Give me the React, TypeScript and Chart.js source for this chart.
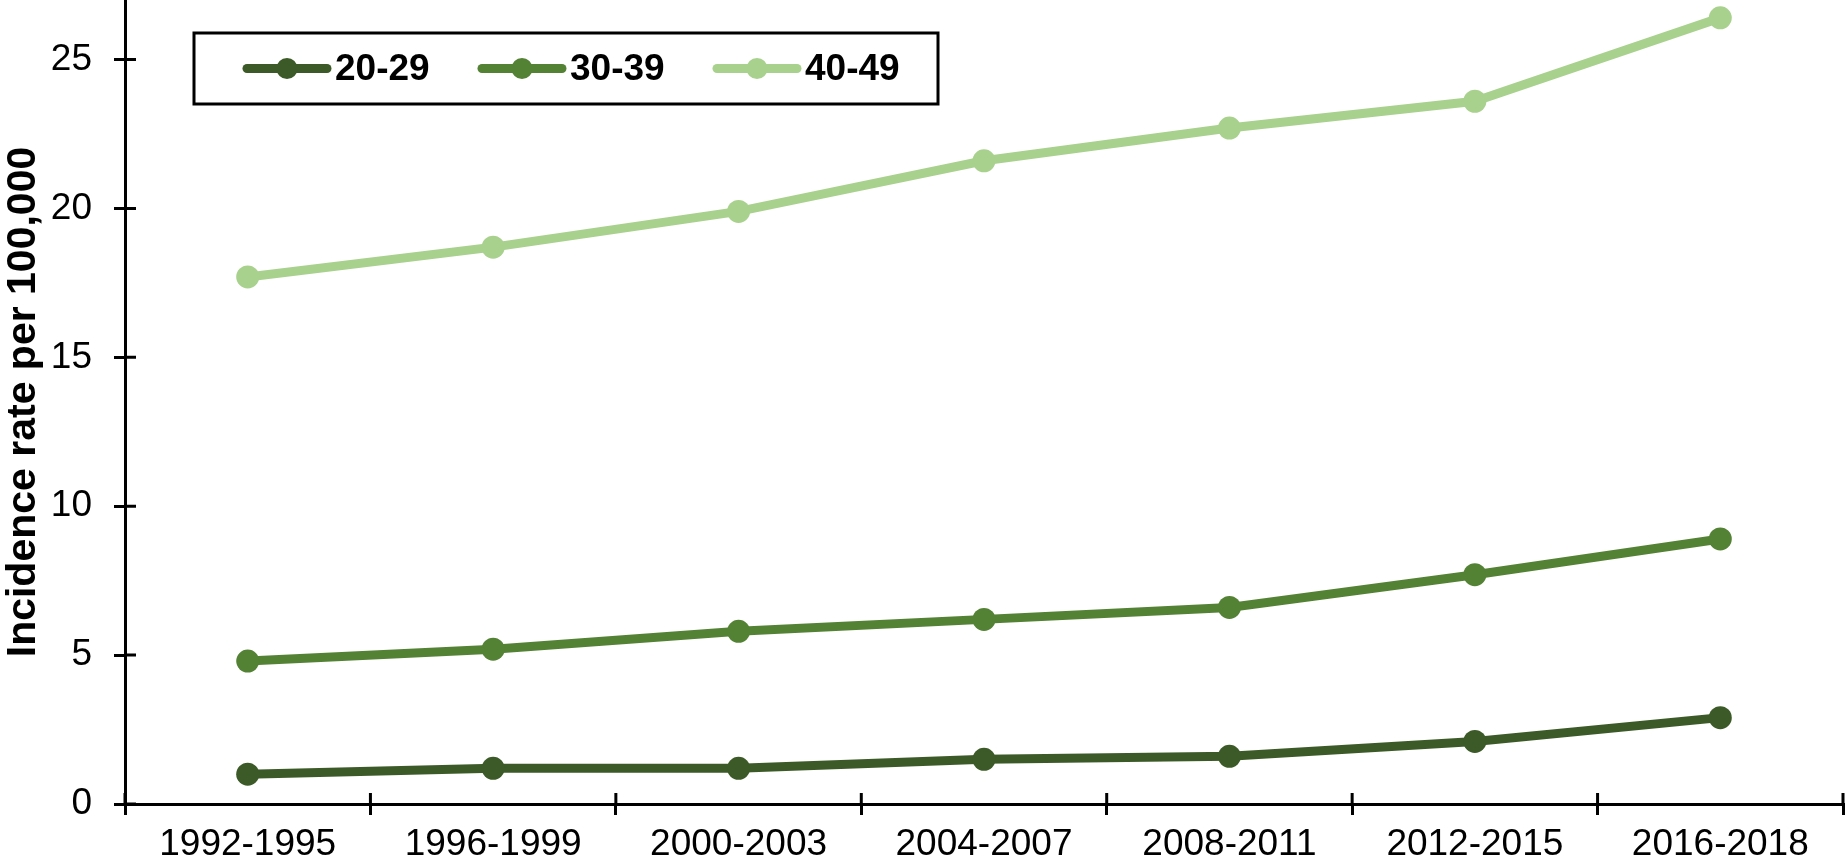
import React, { useEffect, useRef } from "react";
import { Chart, registerables } from "chart.js";

Chart.register(...registerables);

const categories = ["1992-1995", "1996-1999", "2000-2003", "2004-2007", "2008-2011", "2012-2015", "2016-2018"];
const seriesNames = ["20-29", "30-39", "40-49"];
const values2029 = [1.0, 1.2, 1.2, 1.5, 1.6, 2.1, 2.9];
const values3039 = [4.8, 5.2, 5.8, 6.2, 6.6, 7.7, 8.9];
const values4049 = [17.7, 18.7, 19.9, 21.6, 22.7, 23.6, 26.4];
const yTickValues = [0, 5, 10, 15, 20, 25];
const yTitle = "Incidence rate per 100,000";

const colors = ["#3C5A27", "#548235", "#A9D18E"];
const FONT = "'Liberation Sans', Arial, sans-serif";

const crossTicks = {
  id: "crossTicks",
  afterDraw(chart: any) {
    const ctx = chart.ctx;
    const x = chart.scales.x;
    const y = chart.scales.y;
    const len = 11;
    ctx.save();
    ctx.strokeStyle = "#000";
    ctx.lineWidth = 3;
    ctx.beginPath();
    y.ticks.forEach((_t: any, i: number) => {
      const py = y.getPixelForTick(i);
      ctx.moveTo(y.right, py);
      ctx.lineTo(y.right + len, py);
    });
    for (let i = 0; i <= categories.length; i++) {
      const px = x.getPixelForValue(i - 0.5);
      ctx.moveTo(px, x.top);
      ctx.lineTo(px, x.top - len);
    }
    ctx.stroke();
    ctx.restore();
  },
};

const customLegend = {
  id: "customLegend",
  afterDraw(chart: any) {
    const ctx = chart.ctx;
    const left = 194, top = 33, right = 938, bottom = 104;
    ctx.save();
    ctx.fillStyle = "#fff";
    ctx.fillRect(left, top, right - left, bottom - top);
    ctx.strokeStyle = "#000";
    ctx.lineWidth = 3;
    ctx.strokeRect(left, top, right - left, bottom - top);
    const cy = (top + bottom) / 2;
    const starts = [243, 478, 713];
    const lineLen = 88;
    chart.data.datasets.forEach((ds: any, i: number) => {
      const sx = starts[i];
      ctx.strokeStyle = ds.borderColor;
      ctx.lineWidth = 9;
      ctx.lineCap = "round";
      ctx.beginPath();
      ctx.moveTo(sx + 4, cy);
      ctx.lineTo(sx + lineLen - 4, cy);
      ctx.stroke();
      ctx.fillStyle = ds.borderColor;
      ctx.beginPath();
      ctx.arc(sx + lineLen / 2, cy, 10.5, 0, Math.PI * 2);
      ctx.fill();
      ctx.fillStyle = "#000";
      ctx.font = `bold 37px ${FONT}`;
      ctx.textBaseline = "middle";
      ctx.textAlign = "left";
      ctx.fillText(ds.label, sx + lineLen + 4, cy + 1);
    });
    ctx.restore();
  },
};

export default function App() {
  const ref = useRef<HTMLCanvasElement | null>(null);
  useEffect(() => {
    if (!ref.current) return;
    const series = [values2029, values3039, values4049];
    const chart = new Chart(ref.current, {
      type: "line",
      data: {
        labels: categories,
        datasets: series.map((vals, i) => ({
          label: seriesNames[i],
          data: vals,
          borderColor: colors[i],
          backgroundColor: colors[i],
          pointBackgroundColor: colors[i],
          pointBorderColor: colors[i],
          borderWidth: 9,
          pointRadius: 11.5,
          pointBorderWidth: 0,
          tension: 0,
          fill: false,
        })),
      },
      options: {
        responsive: false,
        animation: false,
        events: [],
        layout: { padding: { left: 0, right: 2, top: 0, bottom: 0 }, autoPadding: false },
        plugins: { legend: { display: false }, tooltip: { enabled: false }, title: { display: false } },
        scales: {
          x: {
            type: "category",
            offset: true,
            grid: { display: true, drawOnChartArea: false, drawTicks: true, tickLength: 11, color: "#000", lineWidth: 3, offset: true },
            border: { display: true, color: "#000", width: 3 },
            ticks: { color: "#000", font: { family: FONT, size: 37 }, padding: 8, maxRotation: 0, autoSkip: false },
            afterFit(scale: any) {
              scale.height = 58;
              scale.paddingLeft = 0;
              scale.paddingRight = 0;
            },
          },
          y: {
            min: 0,
            max: 27,
            grid: { display: true, drawOnChartArea: false, drawTicks: true, tickLength: 11, color: "#000", lineWidth: 3 },
            border: { display: true, color: "#000", width: 3 },
            ticks: { color: "#000", font: { family: FONT, size: 37 }, padding: 22, stepSize: 5, includeBounds: false },
            afterBuildTicks(scale: any) {
              scale.ticks = yTickValues.map((v) => ({ value: v }));
            },
            title: { display: true, text: yTitle, color: "#000", font: { family: FONT, size: 41, weight: "bold" }, padding: { top: -1, bottom: 0 } },
            afterFit(scale: any) {
              scale.width = 125;
              scale.paddingTop = 0;
              scale.paddingBottom = 0;
            },
          },
        },
      },
      plugins: [crossTicks, customLegend],
    } as any);
    return () => chart.destroy();
  }, []);
  return (
    <div style={{ position: "absolute", left: 0, top: 0, width: 1845, height: 862, background: "#fff" }}>
      <canvas ref={ref} width={1845} height={862} style={{ display: "block" }} />
    </div>
  );
}
